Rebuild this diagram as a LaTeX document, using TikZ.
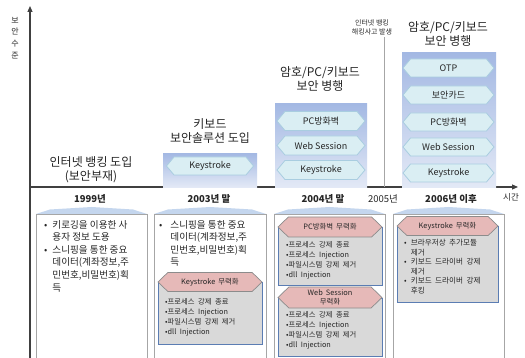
\documentclass[tikz,border=0pt]{standalone}
\usepackage{fontspec}
\setmainfont{Noto Sans CJK KR}
\usetikzlibrary{shapes.symbols,arrows.meta}
\definecolor{axisc}{HTML}{404040}
\definecolor{hexfill}{HTML}{DAEEF3}
\definecolor{hexline}{HTML}{A9CDE0}
\definecolor{boxtop}{HTML}{A3B8E3}
\definecolor{boxbot}{HTML}{E3E9F6}
\definecolor{capc}{HTML}{C4D6EE}
\definecolor{colline}{HTML}{A6A6A6}
\definecolor{grayfill}{HTML}{D9D9D9}
\definecolor{grayline}{HTML}{5B7DB3}
\definecolor{pinkfill}{HTML}{E6B9B8}
\definecolor{pinkline}{HTML}{8C8C8C}
\definecolor{txt}{HTML}{262626}
\newcommand\mywsp[1]{\spaceskip #1\relax}
\tikzset{
  axisline/.style={draw=axisc, line width=1.1pt, -{Triangle[length=6pt,width=5pt]}},
  bluebox/.style={rectangle, top color=boxtop, bottom color=boxbot, draw=none, inner sep=0pt},
  hexa/.style={signal, signal to=west and east, signal pointer angle=100, fill=hexfill, draw=hexline, line width=0.8pt, inner sep=0pt, minimum height=18pt, text=txt, font=\fontsize{9}{10}\selectfont},
  pinkhex/.style={signal, signal to=west and east, signal pointer angle=88, fill=pinkfill, draw=pinkline, line width=0.7pt, inner sep=0pt, minimum height=19pt, text=txt, align=center, font=\fontsize{7.4}{9}\selectfont\mywsp{3pt}},
  graybox/.style={rectangle, fill=grayfill, draw=grayline, line width=0.8pt, inner sep=0pt, anchor=north west},
  items/.style={anchor=north west, inner sep=0pt, align=left, text=txt, font=\fontsize{7.3}{9.8}\selectfont\mywsp{3.6pt}},
  title/.style={align=center, inner sep=0pt, text=txt, font=\fontsize{12}{14}\selectfont},
  yearlbl/.style={inner sep=0pt, text=txt, font=\fontsize{9.5}{10}\selectfont\bfseries},
  coltext/.style={anchor=north west, inner sep=0pt, text=txt, font=\fontsize{9.6}{12.6}\selectfont},
  colbox/.style={draw=colline, line width=0.8pt},
}
\begin{document}
\begin{tikzpicture}[x=1pt,y=-1pt]
\useasboundingbox[fill=white] (0,0) rectangle (525,358);

% axes
\coordinate (yb) at (30,358);
\coordinate (yt) at (30,6);
\coordinate (xl) at (30,187);
\coordinate (xr) at (518,187);
\draw[axisline] (yb) -- (yt);
\draw[axisline] (xl) -- (xr);
\node[inner sep=0pt, align=center, text=txt, font=\fontsize{8}{11.7}\selectfont] (ylab) at (15,38) {보\\안\\수\\준};
\node[inner sep=0pt, text=txt, font=\fontsize{8.5}{10}\selectfont] (xlab) at (511,197) {시간};

% 2005 line
\coordinate (l5b) at (384,187);
\coordinate (l5t) at (384,37);
\draw[colline, line width=0.9pt] (l5b) -- (l5t);
\node[inner sep=0pt, align=center, text=txt, font=\fontsize{7}{9}\selectfont] (hack) at (372,27) {인터넷 뱅킹\\해킹사고 발생};

% 1999
\node[title] (t99) at (91,170) {인터넷 뱅킹 도입\\(보안부재)};

% 2003
\node[bluebox, anchor=north west, minimum width=94pt, minimum height=34pt] (b03) at (163,153) {};
\node[title] (t03) at (210,131.5) {키보드\\보안솔루션 도입};
\node[hexa, minimum width=87pt] (k03) at (210,166) {Keystroke};

% 2004
\node[bluebox, anchor=north west, minimum width=92pt, minimum height=84pt] (b04) at (275,103) {};
\node[title] (t04) at (320,79) {암호/PC/키보드\\보안 병행};
\node[hexa, minimum width=88pt, minimum height=19pt] (p04) at (321,121) {PC방화벽};
\node[hexa, minimum width=88pt, minimum height=19pt] (w04) at (321,145.5) {Web Session};
\node[hexa, minimum width=88pt, minimum height=19pt] (k04) at (321,170) {Keystroke};

% 2006
\node[bluebox, anchor=north west, minimum width=94pt, minimum height=135pt] (b06) at (402,52) {};
\node[title] (t06) at (448,34) {암호/PC/키보드\\보안 병행};
\node[hexa, minimum width=91pt] (o06) at (448.5,68) {OTP};
\node[hexa, minimum width=91pt] (c06) at (448.5,95) {보안카드};
\node[hexa, minimum width=91pt] (p06) at (448.5,122) {PC방화벽};
\node[hexa, minimum width=91pt] (w06) at (448.5,147) {Web Session};
\node[hexa, minimum width=91pt] (k06) at (448.5,173) {Keystroke};

% year labels
\node[yearlbl] (y99) at (90,198.5) {1999년};
\node[yearlbl] (y03) at (209,198.5) {2003년 말};
\node[yearlbl] (y04) at (323,198.5) {2004년 말};
\node[inner sep=0pt, text=txt, font=\fontsize{9.5}{10}\selectfont] (y05) at (383,198.5) {2005년};
\node[yearlbl] (y06) at (451,198.5) {2006년 이후};

% bottom columns
\foreach \xa/\xb in {36/147, 154/266, 274/385, 393/504}{
  \fill[capc] (\xa,214) -- (\xa+14,209.5) -- ({(\xa+\xb)/2},207) -- (\xb-14,209.5) -- (\xb,214) -- cycle;
  \draw[colbox] (\xa,358) -- (\xa,214) -- (\xb,214) -- (\xb,358);
}

% column 1 text
\node[coltext] (c1) at (44,219) {\begin{tabular}{@{}l@{\hspace{5pt}}l@{}}
•& 키로깅을 이용한 사\\
 & 용자 정보 도용\\
•& 스니핑을 통한 중요\\
 & 데이터(계좌정보,주\\
 & 민번호,비밀번호)획\\
 & 득
\end{tabular}};

% column 2 text
\node[coltext] (c2) at (159,219) {\begin{tabular}{@{}l@{\hspace{8pt}}l@{}}
•& 스니핑을 통한 중요\\
 & 데이터(계좌정보,주\\
 & 민번호,비밀번호)획\\
 & 득
\end{tabular}};

% column 2 panel
\node[graybox, minimum width=104pt, minimum height=62pt] (g2) at (158,282) {};
\node[pinkhex, minimum width=104pt] (h2) at (210,282) {Keystroke 무력화};
\node[items] (i2) at (165,298.5) {•프로세스 강제 종료\\•프로세스 Injection\\•파일시스템 강제 제거\\•dll Injection};

% column 3 panel 1
\node[graybox, minimum width=104pt, minimum height=58pt] (g3a) at (278,227) {};
\node[pinkhex, minimum width=104pt, minimum height=20pt] (h3a) at (330,227) {PC방화벽 무력화};
\node[items] (i3a) at (286,241.5) {•프로세스 강제 종료\\•프로세스 Injection\\•파일시스템 강제 제거\\•dll Injection};

% column 3 panel 2
\node[graybox, minimum width=104pt, minimum height=58pt] (g3b) at (278,297.5) {};
\node[pinkhex, minimum width=104pt, minimum height=21pt] (h3b) at (330,297.5) {Web Session\\무력화};
\node[items] (i3b) at (286,311.5) {•프로세스 강제 종료\\•프로세스 Injection\\•파일시스템 강제 제거\\•dll Injection};

% column 4 panel
\node[graybox, minimum width=101pt, minimum height=76pt] (g4) at (397,226) {};
\node[pinkhex, minimum width=101pt] (h4) at (447.5,226) {Keystroke 무력화};
\node[items, font=\fontsize{7.6}{9.6}\selectfont\mywsp{3.4pt}] (i4) at (404,238.5) {\begin{tabular}{@{}l@{\hspace{4pt}}l@{}}
•& 브라우저상 추가모듈\\
 & 제거\\
•& 키보드 드라이버 강제\\
 & 제거\\
•& 키보드 드라이버 강제\\
 & 후킹
\end{tabular}};
\end{tikzpicture}
\end{document}
